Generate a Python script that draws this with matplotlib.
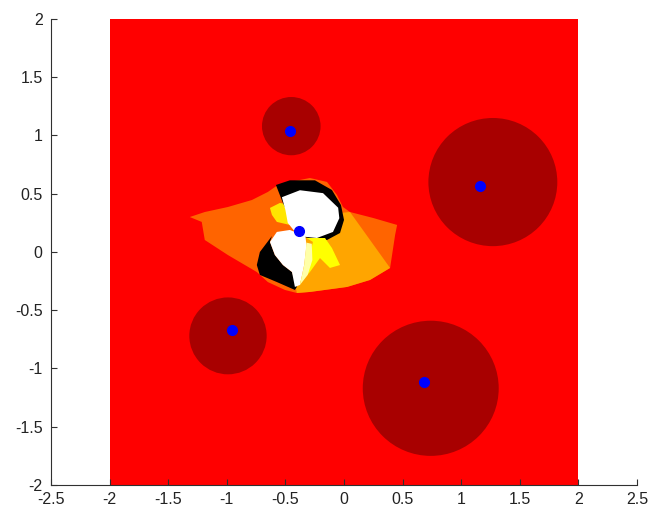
import matplotlib
matplotlib.use("Agg")
import matplotlib.pyplot as plt
from matplotlib.patches import Circle

plt.rcParams['font.family'] = ['Liberation Sans', 'DejaVu Sans']

# square domain
square_x = [-2, 2, 2, -2]
square_y = [-2, -2, 2, 2]

# dark red discs (centre x, centre y, radius)
disc_x = [-0.45, 1.27, -0.99, 0.74]
disc_y = [1.08, 0.60, -0.72, -1.17]
disc_r = [0.25, 0.55, 0.33, 0.58]

# blue points
pts_x = [-0.46, 1.16, -0.96, 0.68, -0.385]
pts_y = [1.04, 0.57, -0.67, -1.12, 0.18]

# central region, drawn back to front
orange_x = [-1.316, -1.188, -0.991, -0.786, -0.650, -0.564, -0.462, -0.291, -0.145, -0.060,
            -0.009, 0.051, 0.248, 0.453, 0.436, 0.410, 0.393, 0.222, 0.026, -0.291,
            -0.402, -0.504, -0.650, -0.744, -0.991, -1.188, -1.214]
orange_y = [0.300, 0.343, 0.386, 0.446, 0.515, 0.575, 0.601, 0.635, 0.601, 0.489,
            0.386, 0.343, 0.292, 0.232, 0.146, -0.026, -0.137, -0.240, -0.300, -0.343,
            -0.352, -0.326, -0.258, -0.172, -0.026, 0.103, 0.258]

lorange_x = [-0.376, -0.034, 0.051, 0.222, 0.393, 0.222, 0.026, -0.291, -0.402, -0.462]
lorange_y = [0.103, 0.335, 0.343, 0.103, -0.137, -0.240, -0.300, -0.343, -0.352, -0.069]

yel_ul_x = [-0.632, -0.547, -0.462, -0.436, -0.462, -0.573, -0.615]
yel_ul_y = [0.378, 0.421, 0.403, 0.343, 0.232, 0.258, 0.318]

black_up_x = [-0.581, -0.462, -0.248, -0.103, -0.026, 0.000, -0.034, -0.145, -0.231, -0.376, -0.521]
black_up_y = [0.575, 0.615, 0.615, 0.532, 0.403, 0.275, 0.163, 0.103, 0.103, 0.137, 0.420]

white_up_x = [-0.530, -0.376, -0.179, -0.050, -0.040, -0.094, -0.231, -0.330, -0.420, -0.480, -0.500]
white_up_y = [0.470, 0.530, 0.505, 0.380, 0.290, 0.172, 0.120, 0.130, 0.175, 0.250, 0.360]

black_lo_x = [-0.615, -0.718, -0.744, -0.718, -0.573, -0.419, -0.402, -0.444, -0.521, -0.590, -0.632]
black_lo_y = [0.137, 0.000, -0.112, -0.197, -0.258, -0.326, -0.300, -0.172, -0.112, -0.026, 0.086]

white_lo_x = [-0.573, -0.632, -0.590, -0.521, -0.444, -0.419, -0.376, -0.340, -0.320, -0.330, -0.462]
white_lo_y = [0.172, 0.086, -0.026, -0.112, -0.172, -0.300, -0.283, -0.112, 0.060, 0.137, 0.189]

yel_x = [-0.320, -0.162, -0.103, -0.034, -0.120, -0.205, -0.291, -0.376, -0.308, -0.265]
yel_y = [0.120, 0.120, 0.034, -0.112, -0.137, -0.052, -0.172, -0.266, -0.086, 0.086]

pale_x = [-0.320, -0.275, -0.270, -0.310, -0.376, -0.340]
pale_y = [0.080, 0.070, -0.069, -0.197, -0.283, -0.112]

fig = plt.figure(figsize=(6.5, 5.12), dpi=100)
ax = fig.add_axes([0.0785, 0.0527, 0.9015, 0.9103])

ax.fill(square_x, square_y, color='#ff0000', lw=0)
for cx, cy, r in zip(disc_x, disc_y, disc_r):
    ax.add_patch(Circle((cx, cy), r, color='#a80000', lw=0))

ax.fill(orange_x, orange_y, color='#ff6400', lw=0)
ax.fill(lorange_x, lorange_y, color='#ffa500', lw=0)
ax.fill(yel_ul_x, yel_ul_y, color='#ffe600', lw=0)
ax.fill(black_up_x, black_up_y, color='black', lw=0)
ax.fill(white_up_x, white_up_y, color='white', lw=0)
ax.fill(black_lo_x, black_lo_y, color='black', lw=0)
ax.fill(white_lo_x, white_lo_y, color='white', lw=0)
ax.fill(yel_x, yel_y, color='#ffff00', lw=0)
ax.fill(pale_x, pale_y, color='#ffffa8', lw=0)

ax.plot(pts_x, pts_y, 'o', color='#0000ff', ms=7, mec='#0000ff')

ax.set_xlim(-2.5, 2.5)
ax.set_ylim(-2, 2)
ax.set_xticks([-2.5, -2, -1.5, -1, -0.5, 0, 0.5, 1, 1.5, 2, 2.5])
ax.set_xticklabels(['-2.5', '-2', '-1.5', '-1', '-0.5', '0', '0.5', '1', '1.5', '2', '2.5'])
ax.set_yticks([-2, -1.5, -1, -0.5, 0, 0.5, 1, 1.5, 2])
ax.set_yticklabels(['-2', '-1.5', '-1', '-0.5', '0', '0.5', '1', '1.5', '2'])
ax.spines['top'].set_visible(False)
ax.spines['right'].set_visible(False)
for s in ('left', 'bottom'):
    ax.spines[s].set_color('#303030')
    ax.spines[s].set_linewidth(0.8)
ax.tick_params(direction='in', length=4, width=0.8, colors='#303030', labelsize=11.5,
               labelcolor='#222222')
ax.tick_params(axis='x', pad=5)
ax.tick_params(axis='y', pad=6)

fig.savefig('out.png', dpi=100)
